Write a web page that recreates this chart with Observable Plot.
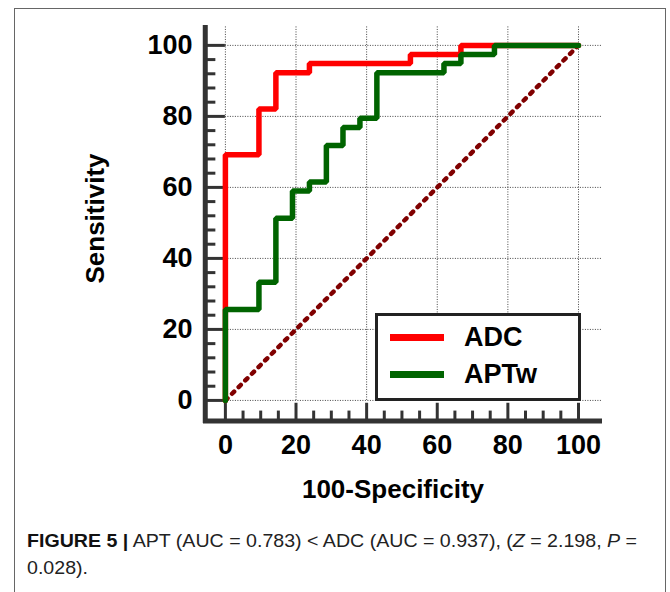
<!DOCTYPE html>
<html>
<head>
<meta charset="utf-8">
<script src="https://cdn.jsdelivr.net/npm/d3@7"></script>
<script src="https://cdn.jsdelivr.net/npm/@observablehq/plot@0.6"></script>
<style>
  html, body { margin: 0; padding: 0; background: #fff; }
  #page { position: relative; width: 670px; height: 592px; overflow: hidden; font-family: "Liberation Sans", Arial, sans-serif; }
  #frame { position: absolute; left: 14px; top: 8px; width: 652px; height: 620px; border: 1px solid #666; box-sizing: border-box; }
  #chart { position: absolute; left: 0; top: 0; }
  #legend { position: absolute; left: 375px; top: 313px; width: 206px; height: 88px; border: 3px solid #222; box-sizing: border-box; background: #fff; }
  .lg-row { position: absolute; left: 0; height: 30px; display: flex; align-items: center; }
  .lg-swatch { width: 54px; height: 7px; margin-left: 12px; margin-right: 20px; }
  .lg-label { font-weight: bold; font-size: 27px; color: #000; }
  #caption { position: absolute; left: 27px; top: 527px; font-family: "Liberation Sans", Arial, sans-serif; font-size: 19px; line-height: 27px; color: #222; white-space: nowrap; transform-origin: 0 0; }
  #caption b { color: #111; }
</style>
</head>
<body>
<div id="page">
  <div id="frame"></div>
  <div id="chart"></div>
  <div id="legend"></div>
  <div id="caption"><span id="cap1"><b>FIGURE 5 |</b> APT (AUC = 0.783) &lt; ADC (AUC = 0.937), (<i>Z</i> = 2.198, <i>P</i> =</span><br>0.028).</div>
</div>
<script>
// ---- Data ----
const series = ["ADC", "APTw"];
const seriesColors = ["#ff0000", "#006400"];

// ROC vertices (100-Specificity, Sensitivity), tops of each vertical step
const adcFpr = [0, 0, 9.5, 14.3, 23.8, 52.4, 66.7, 100];
const adcTpr = [0, 69.2, 82.1, 92.3, 94.9, 97.4, 100, 100];
const aptFpr = [0, 0, 9.5, 14.3, 19.0, 23.8, 28.6, 33.3, 38.1, 42.9, 61.9, 66.7, 76.2, 100];
const aptTpr = [0, 25.6, 33.3, 51.3, 59.0, 61.5, 71.8, 76.9, 79.5, 92.3, 94.9, 97.4, 100, 100];

// reference line
const refX = [0, 100];
const refY = [0, 100];

// ticks
const xMajor = [0, 20, 40, 60, 80, 100];
const yMajor = [0, 20, 40, 60, 80, 100];
const xMinor = [5, 10, 15, 25, 30, 35, 45, 50, 55, 65, 70, 75, 85, 90, 95];
const yMinor = [4, 8, 12, 16, 24, 28, 32, 36, 44, 48, 52, 56, 64, 68, 72, 76, 84, 88, 92, 96];

const xTitle = "100-Specificity";
const yTitle = "Sensitivity";

// ---- Layout ----
const xLow = -6.2, xHigh = 106.8;
const yLow = -6.5, yHigh = 105.6;
const xAxisAt = -5.7;   // position of y-axis line (x value)
const yAxisAt = -5.8;   // position of x-axis line (y value)

const adc = adcFpr.map((x, i) => ({x, y: adcTpr[i], s: series[0]}));
const apt = aptFpr.map((x, i) => ({x, y: aptTpr[i], s: series[1]}));
const ref = refX.map((x, i) => ({x, y: refY[i]}));

const font = "'Liberation Sans', Arial, sans-serif";
const grid = {stroke: "#444", strokeWidth: 1, strokeDasharray: "1,1.5"};

const chart = Plot.plot({
  width: 670,
  height: 520,
  marginLeft: 203,
  marginRight: 68,
  marginTop: 25,
  marginBottom: 97,
  style: {fontFamily: font, background: "transparent", overflow: "visible"},
  x: {domain: [xLow, xHigh]},
  y: {domain: [yLow, yHigh]},
  marks: [
    // dotted grid
    Plot.ruleX(xMajor, {y1: 0, y2: yHigh, ...grid}),
    Plot.ruleY(yMajor, {x1: 0, x2: xHigh, ...grid}),
    // axis lines
    Plot.ruleX([xAxisAt], {y1: yLow, y2: yHigh, stroke: "#333", strokeWidth: 5}),
    Plot.ruleY([yAxisAt], {x1: xLow, x2: xHigh, stroke: "#333", strokeWidth: 5}),
    // inward ticks
    Plot.ruleY(yMajor, {x1: xAxisAt, x2: 0, stroke: "#333", strokeWidth: 3}),
    Plot.ruleY(yMinor, {x1: xAxisAt, x2: -2.7, stroke: "#333", strokeWidth: 3}),
    Plot.ruleX(xMajor, {y1: yAxisAt, y2: -0.8, stroke: "#333", strokeWidth: 3}),
    Plot.ruleX(xMinor, {y1: yAxisAt, y2: -3.0, stroke: "#333", strokeWidth: 3}),
    // tick labels
    Plot.axisX(xMajor, {tickSize: 0, tickPadding: 11, fontSize: 27, fontWeight: "bold", fill: "#000", label: null}),
    Plot.axisY(yMajor, {tickSize: 0, tickPadding: 11, fontSize: 27, fontWeight: "bold", fill: "#000", label: null}),
    // axis titles
    Plot.text([xTitle], {frameAnchor: "bottom", dy: 74, dx: -10, fontSize: 26, fontWeight: "bold", fill: "#000"}),
    Plot.text([yTitle], {frameAnchor: "left", textAnchor: "middle", dx: -108, dy: -6, rotate: -90, fontSize: 26, fontWeight: "bold", fill: "#000"}),
    // reference diagonal
    Plot.line(ref, {x: "x", y: "y", stroke: "#800000", strokeWidth: 4.5, strokeDasharray: "3,6.4"}),
    // ROC curves
    Plot.line(adc, {x: "x", y: "y", stroke: seriesColors[0], strokeWidth: 5.5, curve: "step-after", strokeLinejoin: "miter"}),
    Plot.line(apt, {x: "x", y: "y", stroke: seriesColors[1], strokeWidth: 5.5, curve: "step-after", strokeLinejoin: "miter"})
  ]
});
document.getElementById("chart").appendChild(chart);

// legend
const lg = document.getElementById("legend");
series.forEach((name, i) => {
  const row = document.createElement("div");
  row.className = "lg-row";
  row.style.top = (i === 0 ? 6 : 43) + "px";
  const sw = document.createElement("div");
  sw.className = "lg-swatch";
  sw.style.background = seriesColors[i];
  const lab = document.createElement("span");
  lab.className = "lg-label";
  lab.textContent = name;
  row.appendChild(sw);
  row.appendChild(lab);
  lg.appendChild(row);
});

// fit caption's first line to the reference width (condensed look)
const cap1 = document.getElementById("cap1");
const w = cap1.getBoundingClientRect().width;
if (w > 0) document.getElementById("caption").style.transform = `scaleX(${610 / w})`;
</script>
</body>
</html>
